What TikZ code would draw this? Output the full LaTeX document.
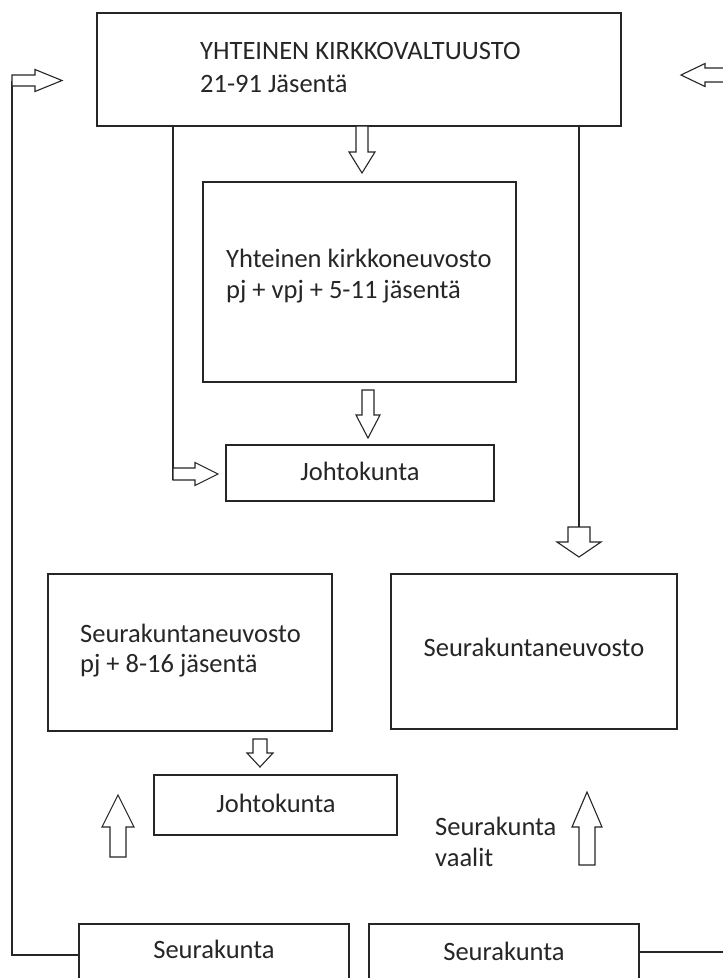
\documentclass[tikz,border=0pt]{standalone}
\usepackage{fontspec}
\setmainfont{Carlito}
\newcommand\blkvert[6]{\draw[blk] ({#1-#5},#2) -- ({#1+#5},#2) -- ({#1+#5},#3) -- ({#1+#6},#3) -- (#1,#4) -- ({#1-#6},#3) -- ({#1-#5},#3) -- cycle;}
\newcommand\blkhor[6]{\draw[blk] (#2,{#1-#5}) -- (#3,{#1-#5}) -- (#3,{#1-#6}) -- (#4,#1) -- (#3,{#1+#6}) -- (#3,{#1+#5}) -- (#2,{#1+#5}) -- cycle;}
\begin{document}
\begin{tikzpicture}[x=1pt,y=-1pt,
  box/.style={draw=black!85, line width=1.4pt, inner sep=0pt},
  txt/.style={text=black!85, font=\fontsize{26.5}{31}\selectfont, inner sep=0pt},
  blk/.style={draw=black!85, line width=1.1pt, line join=miter, fill=white},
  conn/.style={draw=black!85, line width=1.4pt}]
\useasboundingbox (0,0) rectangle (723,978);
\clip (0,0) rectangle (723,978);
\fill[white] (0,0) rectangle (723,978);

% boxes
\node[box, minimum width=524pt, minimum height=113pt] (kv) at (359,69.5) {};
\node[box, minimum width=313pt, minimum height=200pt] (kn) at (359.5,282) {};
\node[box, minimum width=268pt, minimum height=56pt] (j1) at (360,473) {};
\node[box, minimum width=284pt, minimum height=157pt] (sl) at (190,652.5) {};
\node[box, minimum width=286pt, minimum height=155pt] (sr) at (534,651.5) {};
\node[box, minimum width=243pt, minimum height=60pt] (j2) at (275.5,805) {};
\node[box, minimum width=270pt, minimum height=76pt] (s1) at (214,962) {};
\node[box, minimum width=270pt, minimum height=76pt] (s2) at (504,962) {};

% texts
\node[txt, anchor=base west] (t1) at (200,59) {YHTEINEN KIRKKOVALTUUSTO};
\node[txt, anchor=base west] (t2) at (200,92) {21-91 Jäsentä};
\node[txt, anchor=base west] (t3) at (226,267) {Yhteinen kirkkoneuvosto};
\node[txt, anchor=base west] (t4) at (226,298) {pj + vpj + 5-11 jäsentä};
\node[txt, anchor=base] (t5) at (360,480) {Johtokunta};
\node[txt, anchor=base west] (t6) at (80,642) {Seurakuntaneuvosto};
\node[txt, anchor=base west] (t7) at (80,672) {pj + 8-16 jäsentä};
\node[txt, anchor=base] (t8) at (534,656) {Seurakuntaneuvosto};
\node[txt, anchor=base] (t9) at (276,812) {Johtokunta};
\node[txt, anchor=base west] (t10) at (435,835) {Seurakunta};
\node[txt, anchor=base west] (t11) at (435,866) {vaalit};
\node[txt, anchor=base] (t12) at (214,958) {Seurakunta};
\node[txt, anchor=base] (t13) at (504,960) {Seurakunta};

% connector lines
\coordinate (ltop) at (12,80.5);
\coordinate (lbot) at (12,955);
\coordinate (k1) at (173,126);
\coordinate (k2) at (173,480);
\coordinate (r1) at (579,126);
\coordinate (r2) at (579,527);
\coordinate (redge) at (723,952);
\draw[conn] ([yshift=7pt]s1.west) -- (lbot) -- (ltop);
\draw[conn] ([yshift=10pt]s2.east) -- (redge);
\draw[conn] (k1) -- (k2);
\draw[conn] (r1) -- (r2);

% block arrows
\blkhor{80.5}{12}{35}{62}{5.5}{11}
\blkhor{75}{730}{705}{681}{7}{11.5}
\blkhor{474}{173}{195}{218}{6}{11.5}
\blkvert{362}{126}{152}{173}{6}{13}
\blkvert{368}{390}{415}{438}{6}{12}
\blkvert{579}{527}{542}{557}{11}{22}
\blkvert{260}{739}{753}{767}{7}{13}
\blkvert{118}{857}{827}{795}{8}{16}
\blkvert{587}{865}{827}{792}{8}{15}
\end{tikzpicture}
\end{document}
